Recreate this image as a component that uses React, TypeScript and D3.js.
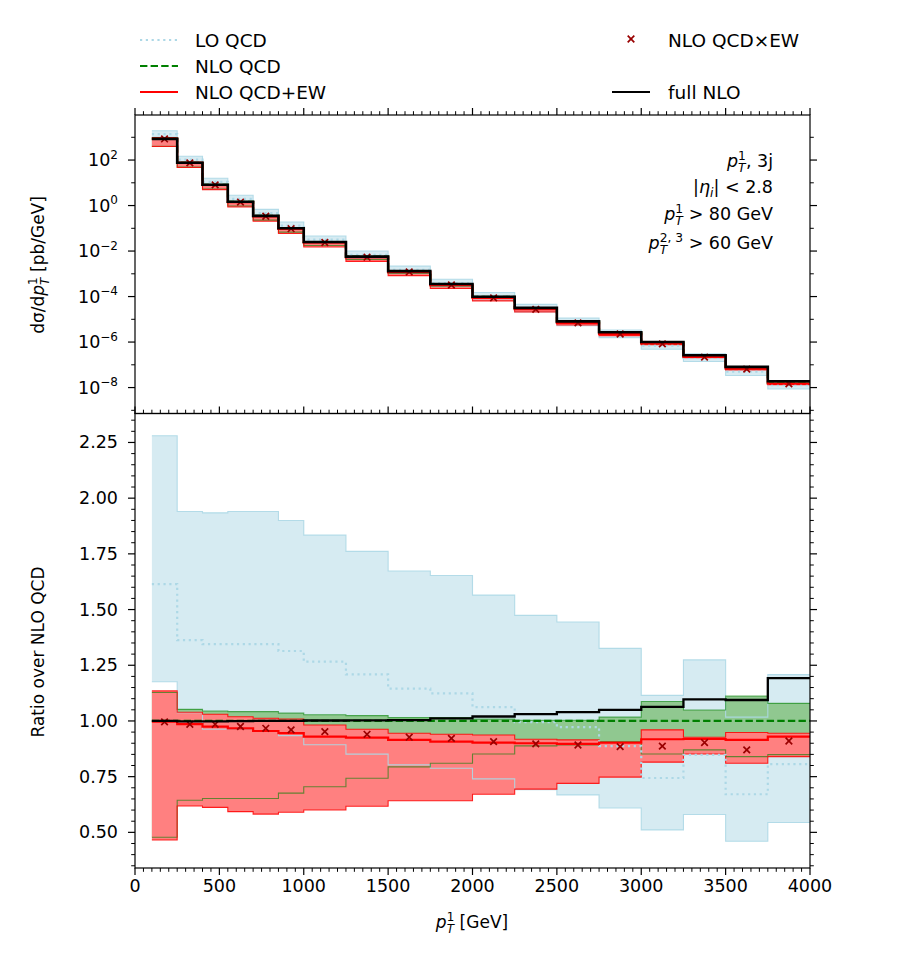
import * as d3 from 'd3'

// pT bins of the leading jet [GeV]
const binEdges = [100, 250, 400, 550, 700, 850, 1000, 1250, 1500, 1750, 2000, 2250, 2500, 2750, 3000, 3250, 3500, 3750, 4000]

// NLO QCD differential cross section per bin [pb/GeV]
const nloQcdXsec = [850, 76, 8.2, 1.46, 0.35, 0.1, 0.025, 5.7e-3, 1.3e-3, 3.5e-4, 9.6e-5, 3.07e-5, 7.8e-6, 2.56e-6, 9.4e-7, 2.4e-7, 7.4e-8, 1.6e-8]

// everything below is a ratio over NLO QCD
const loCentral = [1.614, 1.363, 1.345, 1.345, 1.345, 1.314, 1.266, 1.209, 1.145, 1.124, 1.062, 0.995, 0.972, 0.887, 0.744, 0.848, 0.671, 0.806]
const loLower = [1.176, 1.037, 0.963, 0.963, 0.955, 0.934, 0.893, 0.851, 0.803, 0.788, 0.74, 0.692, 0.668, 0.609, 0.511, 0.58, 0.46, 0.544]
const loUpper = [2.28, 1.94, 1.934, 1.94, 1.94, 1.9, 1.834, 1.761, 1.673, 1.653, 1.565, 1.474, 1.444, 1.326, 1.115, 1.274, 1.017, 1.208]

const nloLower = [0.478, 0.644, 0.652, 0.652, 0.652, 0.676, 0.705, 0.743, 0.794, 0.81, 0.852, 0.888, 0.892, 0.906, 0.852, 0.87, 0.84, 0.849]
const nloUpper = [1.128, 1.052, 1.045, 1.042, 1.042, 1.035, 1.028, 1.024, 1.015, 1.015, 1.008, 1.003, 1.003, 1.017, 1.087, 1.049, 1.112, 1.079]

const ewCentral = [0.997, 0.986, 0.975, 0.967, 0.955, 0.945, 0.93, 0.925, 0.915, 0.907, 0.903, 0.9, 0.897, 0.903, 0.918, 0.919, 0.915, 0.93]
const ewLower = [0.466, 0.618, 0.612, 0.593, 0.582, 0.59, 0.6, 0.617, 0.642, 0.642, 0.671, 0.694, 0.72, 0.748, 0.815, 0.852, 0.81, 0.84]
const ewUpper = [1.135, 1.039, 1.03, 1.019, 1.012, 1.009, 0.982, 0.963, 0.945, 0.94, 0.937, 0.918, 0.915, 0.903, 0.96, 0.927, 0.948, 0.945]

const qcdTimesEw = [0.996, 0.985, 0.985, 0.975, 0.967, 0.96, 0.952, 0.94, 0.927, 0.922, 0.907, 0.897, 0.892, 0.885, 0.887, 0.903, 0.87, 0.91]
const fullNlo = [1.0, 0.998, 0.998, 0.999, 1.0, 1.0, 1.002, 1.003, 1.004, 1.012, 1.02, 1.031, 1.04, 1.05, 1.063, 1.097, 1.094, 1.192]

const xMajorTicks = [0, 500, 1000, 1500, 2000, 2500, 3000, 3500, 4000]
const ratioTicks = [0.5, 0.75, 1.0, 1.25, 1.5, 1.75, 2.0, 2.25]
const logLabelExps = [-8, -6, -4, -2, 0, 2]

const FONT = 'DejaVu Sans'
const LO_COLOR = '#add8e6'
const LO_FILL = '#d6ebf2'
const NLO_COLOR = '#008000'
const NLO_FILL = '#90c890'
const EW_COLOR = '#ff0000'
const EW_FILL = '#ff8080'
const MARK_COLOR = '#990000'
const TICK_FS = 17.5

const left = 135
const right = 810
const topY0 = 115
const splitY = 413.5
const botY1 = 868

const x = d3.scaleLinear().domain([0, 4000]).range([left, right])
const yTop = d3.scaleLog().domain([10 ** -9.14, 10 ** 3.98]).range([splitY, topY0])
const yRatio = d3.scaleLinear().domain([0.34, 2.38]).range([botY1, splitY])

const binCenters = binEdges.slice(0, -1).map((e, i) => (e + binEdges[i + 1]) / 2)

type Scale = (v: number) => number

function stepPath(y: Scale, values: number[]) {
  const pts = values.flatMap((v, i) => [
    [binEdges[i], v],
    [binEdges[i + 1], v],
  ])
  return d3
    .line<number[]>()
    .x((d) => x(d[0]))
    .y((d) => y(d[1]))(pts) ?? ''
}

function bandPath(y: Scale, lo: number[], hi: number[]) {
  const pts = lo.flatMap((l, i) => [
    [binEdges[i], l, hi[i]],
    [binEdges[i + 1], l, hi[i]],
  ])
  return d3
    .area<number[]>()
    .x((d) => x(d[0]))
    .y0((d) => y(d[1]))
    .y1((d) => y(d[2]))(pts) ?? ''
}

function Edges({ y, lo, hi, color, opacity }: { y: Scale; lo: number[]; hi: number[]; color: string; opacity: number }) {
  return (
    <g fill="none" stroke={color} strokeWidth={1.1} strokeOpacity={opacity}>
      <path d={stepPath(y, lo)} />
      <path d={stepPath(y, hi)} />
    </g>
  )
}

function Cross({ cx, cy, size = 3.3 }: { cx: number; cy: number; size?: number }) {
  return (
    <path
      d={`M${cx - size},${cy - size}L${cx + size},${cy + size}M${cx - size},${cy + size}L${cx + size},${cy - size}`}
      stroke={MARK_COLOR}
      strokeWidth={1.7}
    />
  )
}

// all curves of one panel; `toUnits` turns a ratio into the panel's units
function Curves({ y, toUnits, blackWidth }: { y: Scale; toUnits: (r: number[]) => number[]; blackWidth: number }) {
  const lo = [toUnits(loLower), toUnits(loUpper)]
  const nlo = [toUnits(nloLower), toUnits(nloUpper)]
  const ew = [toUnits(ewLower), toUnits(ewUpper)]
  return (
    <g>
      <path d={bandPath(y, lo[0], lo[1])} fill={LO_FILL} />
      <path d={bandPath(y, nlo[0], nlo[1])} fill={NLO_FILL} />
      <path d={bandPath(y, ew[0], ew[1])} fill={EW_FILL} />
      <Edges y={y} lo={lo[0]} hi={lo[1]} color={LO_COLOR} opacity={0.9} />
      <Edges y={y} lo={nlo[0]} hi={nlo[1]} color={NLO_COLOR} opacity={0.6} />
      <Edges y={y} lo={ew[0]} hi={ew[1]} color={EW_COLOR} opacity={0.85} />
      <path d={stepPath(y, toUnits(loCentral))} fill="none" stroke={LO_COLOR} strokeWidth={2.2} strokeDasharray="2.2 3.6" />
      <path
        d={stepPath(y, toUnits(nloLower.map(() => 1)))}
        fill="none"
        stroke={NLO_COLOR}
        strokeWidth={2.2}
        strokeDasharray="7.4 3.2"
      />
      <path d={stepPath(y, toUnits(ewCentral))} fill="none" stroke={EW_COLOR} strokeWidth={2.2} />
      {toUnits(qcdTimesEw).map((v, i) => (
        <Cross key={i} cx={x(binCenters[i])} cy={y(v)} />
      ))}
      <path d={stepPath(y, toUnits(fullNlo))} fill="none" stroke="#000" strokeWidth={blackWidth} />
    </g>
  )
}

// p_T with stacked sub/superscript followed by the rest of the label, as tspans
function PT({ fs, sup, rest }: { fs: number; sup: string; rest: string }) {
  const small = fs * 0.7
  const supWidth = sup.length === 1 ? small * 0.636 : small * (0.636 * 2 + 0.318 + 0.318)
  const tWidth = small * 0.61
  return (
    <>
      <tspan fontStyle="italic">p</tspan>
      <tspan fontSize={small} dy={-fs * 0.42}>
        {sup}
      </tspan>
      <tspan fontSize={small} fontStyle="italic" dx={-supWidth} dy={fs * 0.72}>
        T
      </tspan>
      <tspan dx={Math.max(0, supWidth - tWidth)} dy={-fs * 0.3}>
        {rest}
      </tspan>
    </>
  )
}

function XTicks({ y, dir, labels }: { y: number; dir: 1 | -1; labels: boolean }) {
  const minors = d3.range(0, 4001, 50).filter((v) => v % 500 !== 0)
  return (
    <g>
      {minors.map((v) => (
        <line key={`m${v}`} x1={x(v)} x2={x(v)} y1={y} y2={y + dir * 3.8} stroke="#000" strokeWidth={1} />
      ))}
      {xMajorTicks.map((v) => (
        <g key={v}>
          <line x1={x(v)} x2={x(v)} y1={y} y2={y + dir * 7} stroke="#000" strokeWidth={1.2} />
          {labels && (
            <text x={x(v)} y={y + 24} textAnchor="middle" fontSize={TICK_FS} fontFamily={FONT}>
              {v}
            </text>
          )}
        </g>
      ))}
    </g>
  )
}

export default function App() {
  const ratioMinors = d3.range(0.35, 2.38, 0.05).filter((v) => Math.abs(v * 4 - Math.round(v * 4)) > 1e-6)
  const logTicks = d3.range(-9, 4)
  const fs = 17
  const note = 17.5

  return (
    <svg width={900} height={975} viewBox="0 0 900 975" style={{ display: 'block', margin: '-8px' }} fontFamily={FONT}>
      <rect width={900} height={975} fill="#fff" />

      {/* legend */}
      <g fontSize={18.5}>
        <line x1={140} x2={178} y1={40} y2={40} stroke={LO_COLOR} strokeWidth={2.2} strokeDasharray="2.2 3.6" />
        <text x={195} y={46.5}>LO QCD</text>
        <line x1={140} x2={178} y1={66} y2={66} stroke={NLO_COLOR} strokeWidth={2.2} strokeDasharray="7.4 3.2" />
        <text x={195} y={72.5}>NLO QCD</text>
        <line x1={140} x2={178} y1={92} y2={92} stroke={EW_COLOR} strokeWidth={2.2} />
        <text x={195} y={98.5}>NLO QCD+EW</text>
        <Cross cx={631} cy={39} />
        <text x={668} y={46.5}>NLO QCD×EW</text>
        <line x1={612} x2={650} y1={92} y2={92} stroke="#000" strokeWidth={2.2} />
        <text x={668} y={98.5}>full NLO</text>
      </g>

      <defs>
        <clipPath id="clip-top">
          <rect x={left} y={topY0} width={right - left} height={splitY - topY0} />
        </clipPath>
        <clipPath id="clip-bottom">
          <rect x={left} y={splitY} width={right - left} height={botY1 - splitY} />
        </clipPath>
      </defs>

      {/* upper panel: cross sections, lower panel: ratios */}
      <g clipPath="url(#clip-top)">
        <Curves y={yTop} toUnits={(r) => r.map((v, i) => v * nloQcdXsec[i])} blackWidth={2.6} />
      </g>
      <g clipPath="url(#clip-bottom)">
        <Curves y={yRatio} toUnits={(r) => r} blackWidth={2.3} />
      </g>

      {/* frames */}
      <rect x={left} y={topY0} width={right - left} height={splitY - topY0} fill="none" stroke="#000" strokeWidth={1.2} />
      <rect x={left} y={splitY} width={right - left} height={botY1 - splitY} fill="none" stroke="#000" strokeWidth={1.2} />

      {/* upper panel ticks */}
      <XTicks y={topY0} dir={-1} labels={false} />
      {logTicks.map((e) => {
        const major = e % 2 === 0
        const len = major ? 7 : 3.8
        const yy = yTop(10 ** e)
        return (
          <g key={e}>
            <line x1={left} x2={left - len} y1={yy} y2={yy} stroke="#000" strokeWidth={major ? 1.2 : 1} />
            <line x1={right} x2={right + len} y1={yy} y2={yy} stroke="#000" strokeWidth={major ? 1.2 : 1} />
          </g>
        )
      })}
      {logLabelExps.map((e) => (
        <text key={e} x={118} y={yTop(10 ** e) + 6} textAnchor="end" fontSize={TICK_FS}>
          10
          <tspan fontSize={12} dy={-7.5}>
            {e < 0 ? `\u2212${-e}` : `${e}`}
          </tspan>
        </text>
      ))}

      {/* cuts */}
      <g fontSize={note} textAnchor="end">
        <text x={773} y={167}>
          <PT fs={note} sup="1" rest=", 3j" />
        </text>
        <text x={773} y={193}>
          |<tspan fontStyle="italic">η</tspan>
          <tspan fontSize={note * 0.7} fontStyle="italic" dy={4}>
            i
          </tspan>
          <tspan dy={-4}>| &lt; 2.8</tspan>
        </text>
        <text x={773} y={220}>
          <PT fs={note} sup="1" rest=" > 80 GeV" />
        </text>
        <text x={773} y={249}>
          <PT fs={note} sup="2, 3" rest=" > 60 GeV" />
        </text>
      </g>

      <text transform="translate(44,265) rotate(-90)" textAnchor="middle" fontSize={fs}>
        dσ/d<PT fs={fs} sup="1" rest=" [pb/GeV]" />
      </text>

      {/* lower panel ticks */}
      <XTicks y={splitY} dir={-1} labels={false} />
      <XTicks y={botY1} dir={1} labels={true} />
      {ratioMinors.map((v) => (
        <g key={`m${v.toFixed(2)}`}>
          <line x1={left} x2={left - 3.8} y1={yRatio(v)} y2={yRatio(v)} stroke="#000" strokeWidth={1} />
          <line x1={right} x2={right + 3.8} y1={yRatio(v)} y2={yRatio(v)} stroke="#000" strokeWidth={1} />
        </g>
      ))}
      {ratioTicks.map((v) => (
        <g key={v}>
          <line x1={left} x2={left - 7} y1={yRatio(v)} y2={yRatio(v)} stroke="#000" strokeWidth={1.2} />
          <line x1={right} x2={right + 7} y1={yRatio(v)} y2={yRatio(v)} stroke="#000" strokeWidth={1.2} />
          <text x={118} y={yRatio(v) + 6} textAnchor="end" fontSize={TICK_FS}>
            {v.toFixed(2)}
          </text>
        </g>
      ))}

      <text transform="translate(44,652) rotate(-90)" textAnchor="middle" fontSize={fs}>
        Ratio over NLO QCD
      </text>

      <text x={472} y={928} textAnchor="middle" fontSize={fs}>
        <PT fs={fs} sup="1" rest=" [GeV]" />
      </text>
    </svg>
  )
}
